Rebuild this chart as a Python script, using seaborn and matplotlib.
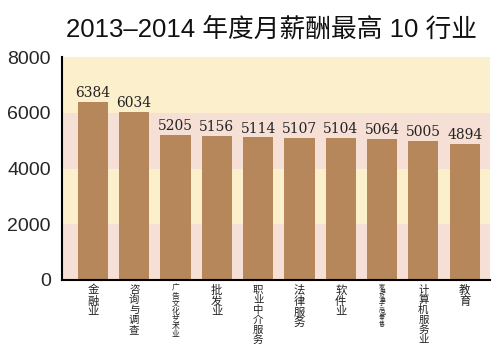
import matplotlib
matplotlib.use("Agg")
import matplotlib.pyplot as plt
import seaborn as sns
import pandas as pd

categories = ["金融业", "咨询与调查", "广告文化艺术业", "批发业", "职业中介服务",
              "法律服务", "软件业", "家电及电子产品零售", "计算机服务业", "教育"]
values = [6384, 6034, 5205, 5156, 5114, 5107, 5104, 5064, 5005, 4894]
yticks = [0, 2000, 4000, 6000, 8000]
title = "2013–2014 年度月薪酬最高 10 行业"

sns.set_style("white")
plt.rcParams['font.family'] = ['Noto Sans CJK SC', 'DejaVu Sans']

df = pd.DataFrame({"cat": categories, "val": values})

fig = plt.figure(figsize=(5.03, 3.46), dpi=100)
ax = fig.add_axes([0.123, 0.191, 0.851, 0.644])

band_colors = ["#f6e0d6", "#fcefcc", "#f6e0d6", "#fcefcc"]
for i, c in enumerate(band_colors):
    ax.axhspan(yticks[i], yticks[i + 1], color=c, zorder=0, lw=0)

sns.barplot(data=df, x="cat", y="val", color="#b5875a", saturation=1,
            width=0.73, ax=ax, zorder=2, edgecolor="none", linewidth=0)

for i, v in enumerate(values):
    ax.text(i, v + 70, str(v), ha="center", va="bottom", fontsize=10,
            family="DejaVu Serif", color="#222222", zorder=3)

ax.set_ylim(0, 8000)
ax.set_xlim(-0.75, len(categories) - 0.39)
ax.set_yticks(yticks)
ax.set_yticklabels([str(t) for t in yticks], fontsize=14, family="Liberation Sans")
ax.set_xticks(range(len(categories)))
ax.set_xticklabels([""] * len(categories))
ax.tick_params(axis="x", length=0)
ax.tick_params(axis="y", length=0, pad=8)
ax.set_xlabel("")
ax.set_ylabel("")
for s in ["top", "right"]:
    ax.spines[s].set_visible(False)
for s in ["left", "bottom"]:
    ax.spines[s].set_color("black")
    ax.spines[s].set_linewidth(1.5)

trans = ax.get_xaxis_transform()
for i, c in enumerate(categories):
    n = len(c)
    if n <= 4:
        fs, ls = 8.2, 1.05
    elif n <= 6:
        fs, ls = 7.5, 1.0
    elif n <= 7:
        fs, ls = 5.6, 0.95
    else:
        fs, ls = 4.3, 0.8
    ax.text(i, -0.022, "\n".join(c), transform=trans, ha="center", va="top",
            fontsize=fs, linespacing=ls, color="#222222")

fig.text(0.54, 0.915, title, ha="center", va="center", fontsize=18.5,
         family=["Liberation Sans", "Noto Sans CJK SC"], color="#111111")

fig.savefig("out.png", dpi=100, facecolor="white")
